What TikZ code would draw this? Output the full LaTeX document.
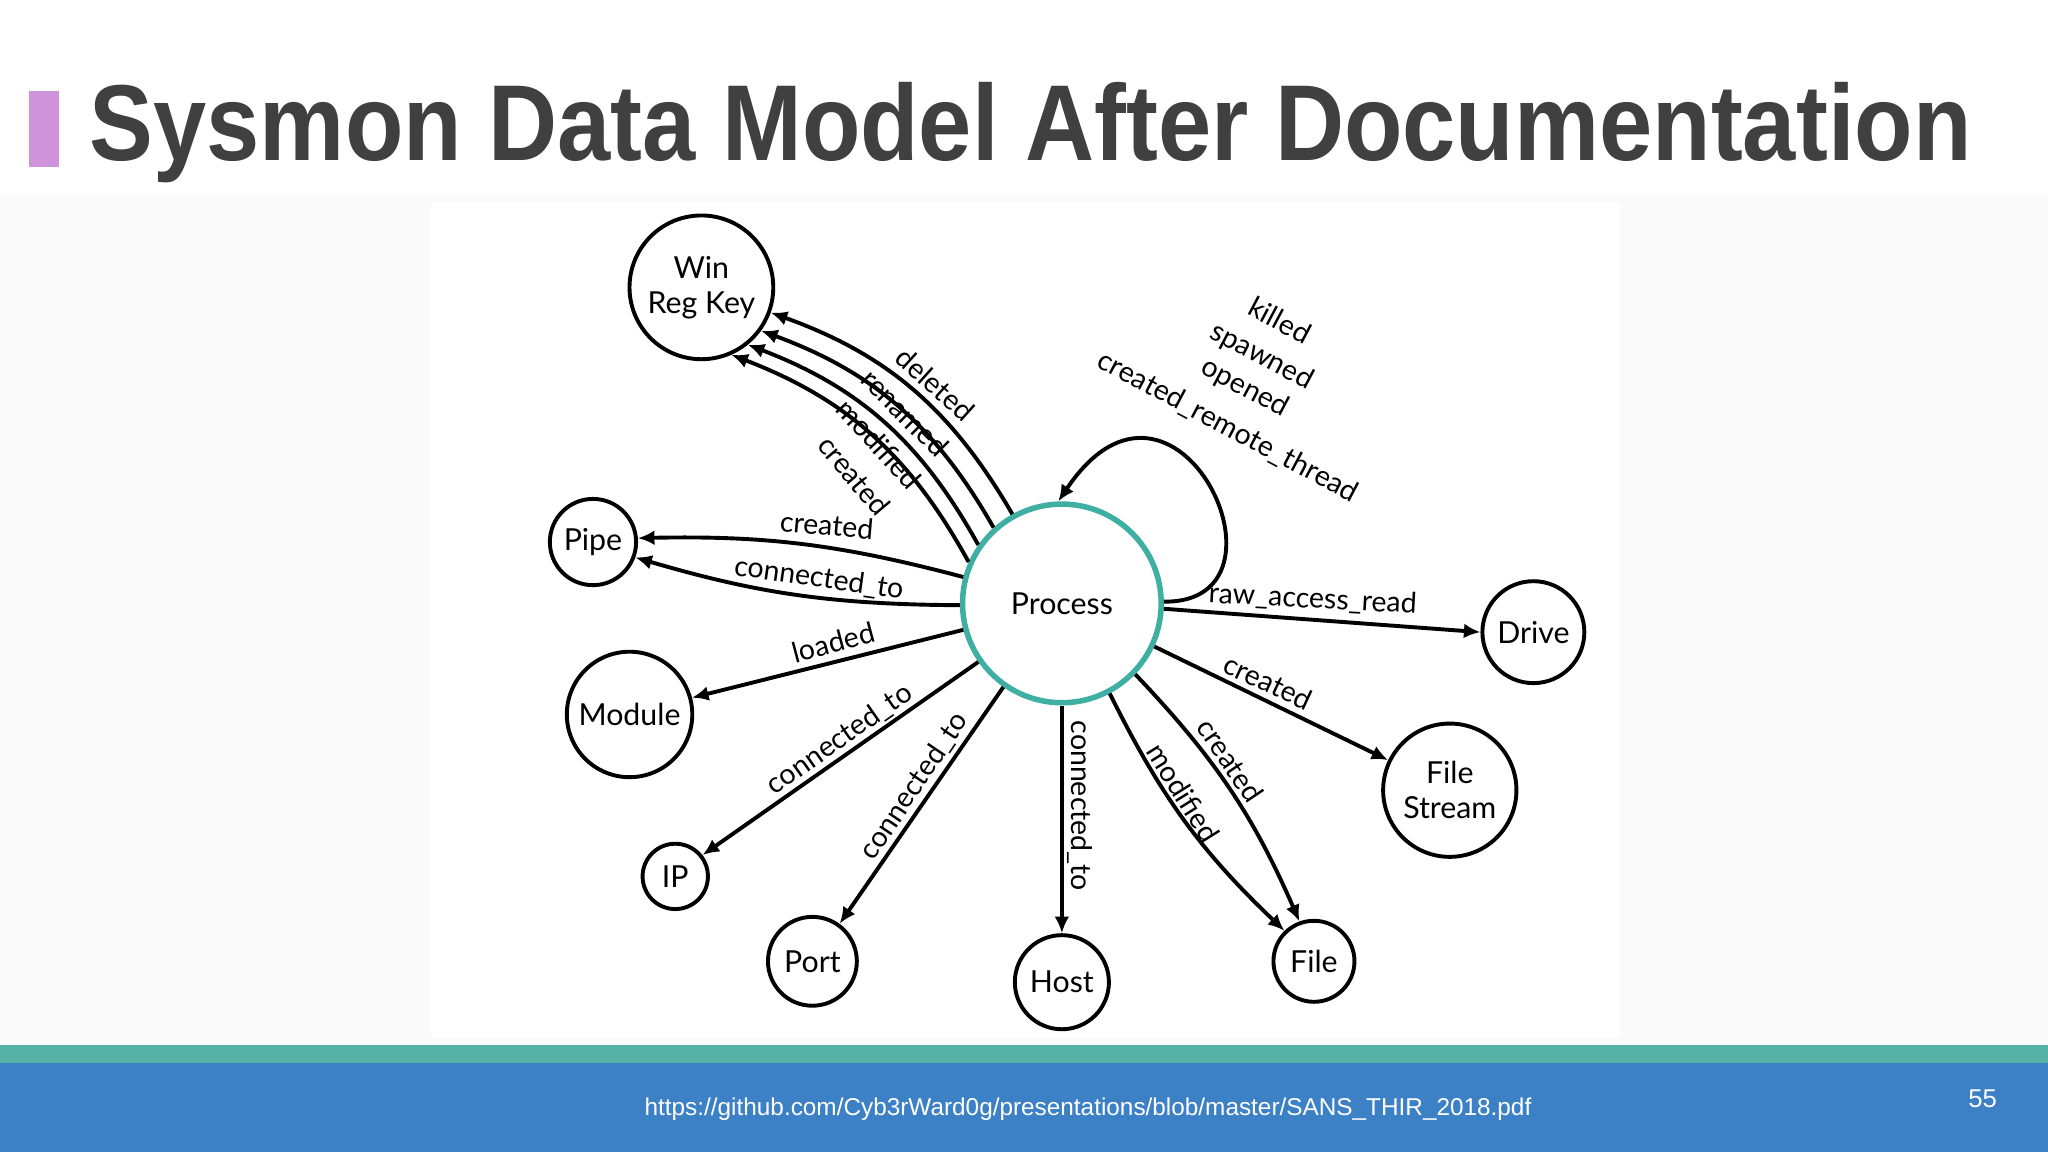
\documentclass[tikz,border=0pt]{standalone}
\usepackage{fontspec}
\setmainfont{Lato}
\newfontfamily\arialf{Liberation Sans}
\usetikzlibrary{arrows.meta}
\definecolor{tealc}{HTML}{3FAFA3}
\definecolor{bandteal}{HTML}{55B2A6}
\definecolor{bandblue}{HTML}{3C80C6}
\definecolor{titlec}{HTML}{404040}
\definecolor{barc}{HTML}{CE93D8}
\tikzset{
 ent/.style={circle,draw=black,line width=0.85pt,inner sep=0pt,align=center,font=\fontsize{6.6}{7.6}\selectfont},
 rel/.style={line width=0.85pt,-{Latex[length=3.6pt,width=3.2pt]}},
 lab/.style={font=\fontsize{6.2}{7}\selectfont,inner sep=0pt}
}
\begin{document}
\begin{tikzpicture}[x=0.01cm,y=-0.01cm]
\useasboundingbox (0,0) rectangle (1568,882);
\fill[white] (0,0) rectangle (1568,882);
\fill[gray!4] (0,148) rectangle (1568,800);
\fill[white] (330,155) rectangle (1240,795);
\fill[bandteal] (0,800) rectangle (1568,814);
\fill[bandblue] (0,814) rectangle (1568,882);
\fill[barc] (22,70) rectangle (45,128);
\node[anchor=base west,inner sep=0,text=titlec,font=\arialf\bfseries\fontsize{23.5}{26}\selectfont] (title) at (68,123) {\resizebox{14.4cm}{\height}{Sysmon Data Model After Documentation}};
\node[text=white,font=\arialf\fontsize{5.3}{6}\selectfont] (url) at (833,849) {https://github.com/Cyb3rWard0g/presentations/blob/master/SANS\_THIR\_2018.pdf};
\node[text=white,font=\arialf\fontsize{5.6}{6}\selectfont] (pg) at (1518,841) {55};

\node[ent,draw=tealc,line width=1.2pt,minimum size=1.52cm] (p) at (813,462) {Process};
\node[ent,minimum size=1.1cm] (w) at (537,220) {Win\\Reg Key};
\node[ent,minimum size=0.66cm] (pi) at (454,415) {Pipe};
\node[ent,minimum size=0.96cm] (m) at (482,547) {Module};
\node[ent,minimum size=0.5cm] (ip) at (517,671) {IP};
\node[ent,minimum size=0.68cm] (po) at (622,736) {Port};
\node[ent,minimum size=0.72cm] (h) at (813,752) {Host};
\node[ent,minimum size=0.62cm] (f) at (1006,736) {File};
\node[ent,minimum size=1.02cm] (fs) at (1110,605) {File\\Stream};
\node[ent,minimum size=0.78cm] (d) at (1174,484) {Drive};

\draw[rel] (p.119) to[bend right=20] (w.-20);
\draw[rel] (p.132) to[bend right=20] (w.-36);
\draw[rel] (p.145) to[bend right=20] (w.-51);
\draw[rel] (p.156) to[bend right=20] (w.-66);
\node[lab,rotate=-42] (l1) at (716,294) {deleted};
\node[lab,rotate=-45] (l2) at (693,316) {renamed};
\node[lab,rotate=-48] (l3) at (673,340) {modified};
\node[lab,rotate=-50] (l4) at (654,364) {created};

\draw[rel] (p.165) to[bend right=8] (pi.5);
\draw[rel] (p.181) to[bend left=8] (pi.-20);
\node[lab,rotate=-5] (l5) at (633,402) {created};
\node[lab,rotate=-8] (l6) at (627,443) {connected\_to};

\draw[rel] (p.195) -- (m.15);
\node[lab,rotate=15] (l7) at (638,492) {loaded};
\draw[rel] (p.215) -- (ip.38);
\node[lab,rotate=35] (l8) at (643,566) {connected\_to};
\draw[rel] (p.235) -- (po.54);
\node[lab,rotate=56] (l9) at (700,602) {connected\_to};
\draw[rel] (p.270) -- (h.90);
\node[lab,rotate=-90] (l10) at (827,617) {connected\_to};
\draw[rel] (p.-62) to[bend right=10] (f.134);
\node[lab,rotate=-58] (l11) at (906,607) {modified};
\draw[rel] (p.-44) to[bend left=10] (f.110);
\node[lab,rotate=-56] (l12) at (942,582) {created};
\draw[rel] (p.-25) -- (fs.154);
\node[lab,rotate=-25] (l13) at (971,522) {created};
\draw[rel] (p.-3) -- (d.180);
\node[lab,rotate=-3] (l14) at (1005,459) {raw\_access\_read};

\draw[rel] (p.1) .. controls (1000,462) and (900,250) .. (p.92);
\node[lab,rotate=-28] (k1) at (980,245) {killed};
\node[lab,rotate=-28] (k2) at (966,273) {spawned};
\node[lab,rotate=-28] (k3) at (953,297) {opened};
\node[lab,rotate=-28] (k4) at (940,327) {created\_remote\_thread};
\end{tikzpicture}
\end{document}
